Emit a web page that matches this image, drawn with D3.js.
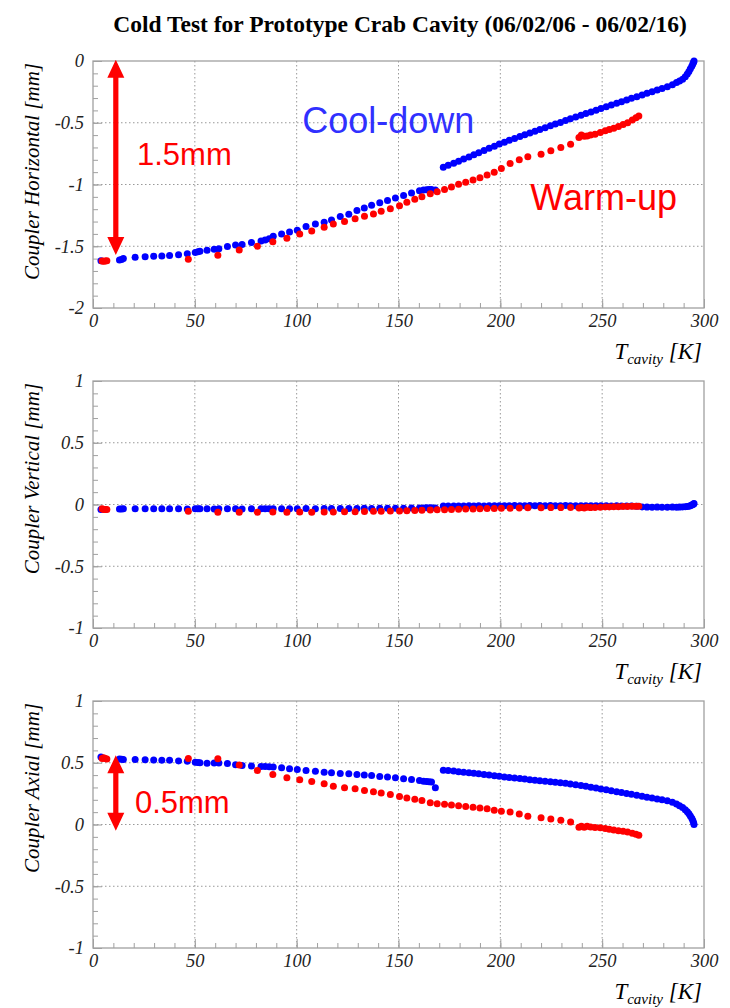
<!DOCTYPE html>
<html lang="en">
<head>
  <meta charset="utf-8">
  <title>Cold Test for Prototype Crab Cavity</title>
  <style>
  html, body {padding: 0; margin: 0; overflow: hidden; background: #fff}
  svg {display: block}
</style>
</head>
<body>
  <svg width="730" height="1008"></svg>
  <script src="https://d3js.org/d3.v7.min.js"></script>
  <script>

  // cool-down run (blue), temperature [K] and coupler displacements [mm]
  var coolT = [
    3.9, 13, 14, 14.9, 20.7, 25.6, 29.8, 33.8,
    37.6, 42, 46.3, 50.2, 51.5, 52.5, 56, 59.5,
    61.8, 66, 70, 73.2, 77.8, 82.5, 84.5, 86.5,
    88.5, 92.6, 96.5, 100.3, 104.6, 109.2, 113.5, 117.1,
    121.4, 125.6, 129.6, 133.2, 136.8, 140.8, 144.6, 148.5,
    152.5, 156.4, 160.3, 162.3, 163.8, 165, 166.2, 168.1,
    172.0, 174.4, 177.1, 179.5, 182.0, 184.6, 187.0, 189.4,
    192.0, 194.5, 197.1, 199.5, 202.0, 204.4, 207.0, 209.6,
    212.0, 214.5, 217.0, 219.4, 222.0, 224.6, 227.0, 229.5,
    232.0, 234.4, 237.0, 239.6, 242.0, 244.5, 247.0, 249.4,
    252.0, 254.5, 257.1, 259.5, 262.0, 264.4, 267.0, 269.6,
    272.0, 274.5, 277.0, 279.4, 282.0, 284.5, 286.5, 288.0,
    289.5, 290.8, 291.8, 292.6, 293.3, 294.0, 294.5, 294.9,
    295.1];
  var coolH = [
    -1.617, -1.612, -1.608, -1.600, -1.590, -1.585, -1.580, -1.578,
    -1.575, -1.568, -1.560, -1.550, -1.545, -1.540, -1.533, -1.525,
    -1.520, -1.503, -1.490, -1.486, -1.470, -1.457, -1.450, -1.440,
    -1.420, -1.400, -1.385, -1.370, -1.340, -1.320, -1.305, -1.287,
    -1.260, -1.240, -1.210, -1.190, -1.168, -1.147, -1.130, -1.110,
    -1.090, -1.068, -1.050, -1.045, -1.042, -1.040, -1.040, -1.045,
    -0.860, -0.844, -0.828, -0.811, -0.794, -0.777, -0.760, -0.742,
    -0.724, -0.707, -0.690, -0.672, -0.657, -0.642, -0.627, -0.612,
    -0.598, -0.583, -0.569, -0.554, -0.540, -0.525, -0.511, -0.497,
    -0.482, -0.468, -0.454, -0.440, -0.426, -0.412, -0.398, -0.385,
    -0.371, -0.357, -0.343, -0.330, -0.316, -0.302, -0.289, -0.275,
    -0.262, -0.248, -0.235, -0.222, -0.208, -0.192, -0.175, -0.162,
    -0.148, -0.127, -0.105, -0.085, -0.063, -0.042, -0.025, -0.010,
    0.000];
  var coolV = [
    -0.040, -0.036, -0.036, -0.035, -0.035, -0.035, -0.035, -0.035,
    -0.035, -0.035, -0.036, -0.035, -0.034, -0.035, -0.035, -0.036,
    -0.035, -0.034, -0.035, -0.036, -0.035, -0.034, -0.035, -0.034,
    -0.035, -0.034, -0.035, -0.034, -0.033, -0.034, -0.033, -0.033,
    -0.032, -0.033, -0.032, -0.031, -0.032, -0.030, -0.031, -0.030,
    -0.030, -0.029, -0.028, -0.028, -0.027, -0.028, -0.027, -0.028,
    -0.013, -0.012, -0.012, -0.013, -0.012, -0.011, -0.012, -0.011,
    -0.012, -0.011, -0.010, -0.011, -0.010, -0.010, -0.009, -0.010,
    -0.010, -0.009, -0.010, -0.009, -0.010, -0.009, -0.010, -0.010,
    -0.009, -0.010, -0.010, -0.011, -0.010, -0.011, -0.011, -0.010,
    -0.011, -0.012, -0.011, -0.012, -0.013, -0.012, -0.015, -0.020,
    -0.021, -0.022, -0.021, -0.022, -0.022, -0.021, -0.022, -0.021,
    -0.020, -0.019, -0.017, -0.014, -0.010, -0.005, 0.000, 0.005,
    0.008];
  var coolA = [
    0.546, 0.530, 0.528, 0.527, 0.527, 0.524, 0.522, 0.520,
    0.520, 0.515, 0.513, 0.505, 0.502, 0.500, 0.495, 0.497,
    0.498, 0.493, 0.483, 0.478, 0.473, 0.470, 0.469, 0.468,
    0.466, 0.459, 0.451, 0.446, 0.438, 0.432, 0.424, 0.419,
    0.413, 0.410, 0.405, 0.400, 0.397, 0.389, 0.384, 0.378,
    0.370, 0.365, 0.357, 0.351, 0.348, 0.346, 0.344, 0.297,
    0.440, 0.437, 0.433, 0.428, 0.424, 0.420, 0.415, 0.410,
    0.405, 0.400, 0.395, 0.390, 0.385, 0.381, 0.376, 0.372,
    0.368, 0.363, 0.359, 0.355, 0.351, 0.347, 0.343, 0.339,
    0.334, 0.328, 0.322, 0.316, 0.309, 0.302, 0.295, 0.288,
    0.281, 0.274, 0.266, 0.259, 0.251, 0.244, 0.236, 0.228,
    0.221, 0.214, 0.207, 0.200, 0.192, 0.180, 0.166, 0.152,
    0.138, 0.120, 0.104, 0.088, 0.068, 0.050, 0.032, 0.015,
    0.000];

  // warm-up run (red)
  var warmT = [
    4.5, 5.2, 6.0, 6.8, 46.8, 61.3, 71.8, 80.7,
    88.3, 95.2, 101.5, 107.4, 113.5, 118.0, 123.5, 128.7,
    133.3, 137.7, 141.5, 146.0, 150.5, 154.1, 158.0, 161.5,
    165.6, 169.0, 172.6, 176.0, 179.5, 183.0, 186.6, 190.0,
    193.5, 197.0, 200.5, 204.8, 209.3, 213.5, 220.0, 224.8,
    229.7, 234.5, 238.6, 239.8, 241.2, 242.6, 244.3, 246.5,
    249.1, 251.5, 253.5, 255.7, 258.0, 260.3, 262.5, 264.8,
    266.6, 268.0];
  var warmH = [
    -1.620, -1.622, -1.620, -1.618, -1.606, -1.573, -1.530, -1.500,
    -1.463, -1.436, -1.400, -1.377, -1.347, -1.320, -1.300, -1.277,
    -1.258, -1.239, -1.217, -1.196, -1.172, -1.144, -1.120, -1.099,
    -1.074, -1.058, -1.040, -1.020, -0.998, -0.982, -0.964, -0.945,
    -0.923, -0.900, -0.870, -0.830, -0.800, -0.775, -0.755, -0.726,
    -0.700, -0.675, -0.620, -0.600, -0.610, -0.608, -0.600, -0.594,
    -0.578, -0.565, -0.555, -0.545, -0.530, -0.515, -0.500, -0.478,
    -0.460, -0.445];
  var warmV = [
    -0.035, -0.040, -0.040, -0.040, -0.055, -0.062, -0.062, -0.063,
    -0.060, -0.062, -0.060, -0.062, -0.060, -0.060, -0.058, -0.058,
    -0.057, -0.055, -0.055, -0.053, -0.052, -0.050, -0.048, -0.047,
    -0.045, -0.043, -0.042, -0.040, -0.038, -0.037, -0.036, -0.035,
    -0.033, -0.032, -0.030, -0.030, -0.028, -0.027, -0.026, -0.025,
    -0.025, -0.024, -0.028, -0.024, -0.028, -0.022, -0.025, -0.024,
    -0.022, -0.020, -0.020, -0.018, -0.018, -0.016, -0.016, -0.015,
    -0.015, -0.014];
  var warmA = [
    0.535, 0.540, 0.535, 0.530, 0.535, 0.532, 0.481, 0.438,
    0.405, 0.378, 0.362, 0.349, 0.329, 0.310, 0.297, 0.289,
    0.276, 0.265, 0.256, 0.243, 0.226, 0.215, 0.205, 0.195,
    0.177, 0.168, 0.163, 0.158, 0.151, 0.146, 0.140, 0.134,
    0.127, 0.116, 0.108, 0.102, 0.086, 0.067, 0.054, 0.045,
    0.035, 0.021, -0.022, -0.014, -0.022, -0.014, -0.020, -0.024,
    -0.027, -0.033, -0.038, -0.044, -0.050, -0.054, -0.060, -0.070,
    -0.078, -0.087];

  var xTicks = [0, 50, 100, 150, 200, 250, 300];
  var yTitles = ["Coupler Horizontal [mm]", "Coupler Vertical [mm]", "Coupler Axial [mm]"];
  var yDomains = [[-2, 0], [-1, 1], [-1, 1]];
  var yTickSets = [[-2, -1.5, -1, -0.5, 0], [-1, -0.5, 0, 0.5, 1], [-1, -0.5, 0, 0.5, 1]];
  var coolSeries = [coolH, coolV, coolA];
  var warmSeries = [warmH, warmV, warmA];

  var svg = d3.select("svg"),
      left = 93, right = 704,
      tops = [61, 381, 701],
      ph = 247;

  var serif = "'Liberation Serif', 'Times New Roman', serif",
      sans = "'Liberation Sans', Arial, sans-serif",
      frameColor = "#a0a0a0";

  var x = d3.scaleLinear().domain([0, 300]).range([left, right]);

  svg.append("text")
    .attr("x", 400).attr("y", 32)
    .attr("text-anchor", "middle")
    .style("font-family", serif).style("font-weight", "bold").style("font-size", "23.5px")
    .text("Cold Test for Prototype Crab Cavity (06/02/06 - 06/02/16)");

  var panels = [];

  tops.forEach(function(top, i) {
    var bottom = top + ph;
    var y = d3.scaleLinear().domain(yDomains[i]).range([bottom, top]);
    var g = svg.append("g");
    panels.push({g: g, y: y});

    // dotted grid
    g.selectAll(".gx").data(xTicks.slice(1, -1)).enter().append("line")
      .attr("x1", x).attr("x2", x).attr("y1", top).attr("y2", bottom)
      .attr("stroke", "#999").attr("stroke-dasharray", "1.5,2.5");
    g.selectAll(".gy").data(yTickSets[i].slice(1, -1)).enter().append("line")
      .attr("y1", y).attr("y2", y).attr("x1", left).attr("x2", right)
      .attr("stroke", "#999").attr("stroke-dasharray", "1.5,2.5");

    // minor and major ticks
    var yMinor = d3.range(yDomains[i][0], yDomains[i][1] + 1e-9, 0.1);
    var xMinor = d3.range(0, 301, 10);

    g.append("g").attr("transform", "translate(" + left + ",0)")
      .call(d3.axisLeft(y).tickValues(yMinor).tickSize(-5).tickFormat(""));
    g.append("g").attr("class", "yax").attr("transform", "translate(" + left + ",0)")
      .call(d3.axisLeft(y).tickValues(yTickSets[i]).tickSize(-9).tickPadding(9)
        .tickFormat(function(d) { return String(d); }));
    g.append("g").attr("transform", "translate(0," + bottom + ")")
      .call(d3.axisBottom(x).tickValues(xMinor).tickSize(-5).tickFormat(""));
    g.append("g").attr("class", "xax").attr("transform", "translate(0," + bottom + ")")
      .call(d3.axisBottom(x).tickValues(xTicks).tickSize(-9).tickPadding(6)
        .tickFormat(function(d) { return String(d); }));

    g.selectAll(".domain").remove();
    g.selectAll(".tick line").attr("stroke", frameColor);
    g.selectAll(".tick text")
      .attr("fill", "#222")
      .style("font-family", serif).style("font-style", "italic").style("font-size", "18.5px");

    g.append("rect")
      .attr("x", left).attr("y", top).attr("width", right - left).attr("height", ph)
      .attr("fill", "none").attr("stroke", frameColor).attr("stroke-width", 1.3);

    // axis titles
    g.append("text")
      .attr("transform", "translate(39," + (top + 2) + ") rotate(-90)")
      .attr("text-anchor", "end")
      .style("font-family", serif).style("font-style", "italic").style("font-size", "21px")
      .text(yTitles[i]);

    var xt = g.append("text")
      .attr("x", 702).attr("y", bottom + 51)
      .attr("text-anchor", "end")
      .style("font-family", serif).style("font-style", "italic").style("font-size", "23px");
    xt.append("tspan").text("T");
    xt.append("tspan").attr("dy", 5).style("font-size", "15px").text("cavity");
    xt.append("tspan").attr("dy", -5).text(" [K]");

    // points: cool-down first, warm-up on top
    g.selectAll(".cool").data(coolT).enter().append("circle")
      .attr("cx", function(d) { return x(d); })
      .attr("cy", function(d, j) { return y(coolSeries[i][j]); })
      .attr("r", 3.5).attr("fill", "#0000ff");
    g.selectAll(".warm").data(warmT).enter().append("circle")
      .attr("cx", function(d) { return x(d); })
      .attr("cy", function(d, j) { return y(warmSeries[i][j]); })
      .attr("r", 3.5).attr("fill", "#ff0000");
  });

  // annotations
  function arrow(p, t, v0, v1) {
    var cx = x(t), yt = p.y(v0), yb = p.y(v1),
        hw = 8.5, hl = 18, sw = 2.6;
    var pts = [[cx, yt], [cx + hw, yt + hl], [cx + sw, yt + hl], [cx + sw, yb - hl],
               [cx + hw, yb - hl], [cx, yb], [cx - hw, yb - hl], [cx - sw, yb - hl],
               [cx - sw, yt + hl], [cx - hw, yt + hl]];
    p.g.append("path").attr("d", "M" + pts.join("L") + "Z").attr("fill", "#ff0000");
  }

  function label(p, t, v, txt, color, size) {
    p.g.append("text").attr("x", x(t)).attr("y", p.y(v))
      .attr("fill", color)
      .style("font-family", sans).style("font-size", size + "px")
      .text(txt);
  }

  arrow(panels[0], 11.2, 0.01, -1.57);
  label(panels[0], 21.6, -0.842, "1.5mm", "#ff0000", 31);
  label(panels[0], 102.7, -0.583, "Cool-down", "#3030ff", 36);
  label(panels[0], 214.7, -1.206, "Warm-up", "#ff0000", 36);

  arrow(panels[2], 11.2, 0.56, -0.05);
  label(panels[2], 20.6, 0.092, "0.5mm", "#ff0000", 31);

  </script>
</body>
</html>
